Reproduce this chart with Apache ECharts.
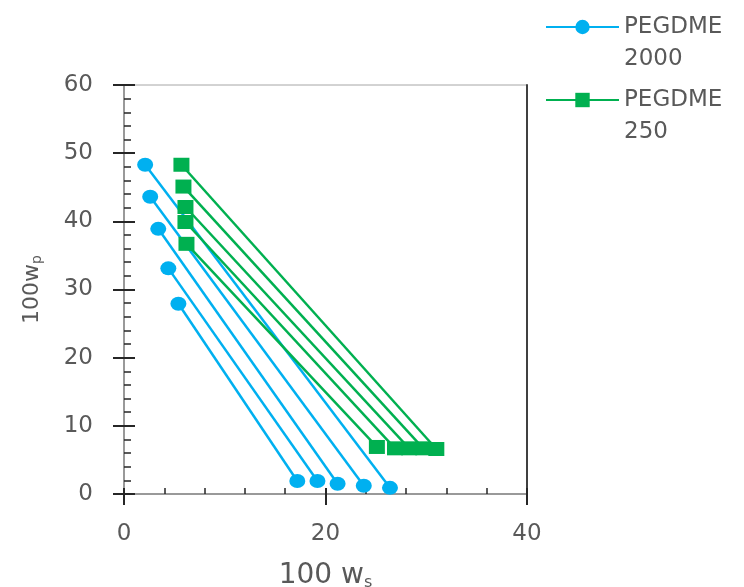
<!DOCTYPE html>
<html>
<head>
<meta charset="utf-8">
<script src="https://cdn.jsdelivr.net/npm/echarts@6/dist/echarts.min.js"></script>
<style>
  html, body { margin: 0; padding: 0; background: #fff; }
  #chart { width: 744px; height: 587px; }
</style>
</head>
<body>
<div id="chart"></div>
<script>
// tie lines: upper (polymer rich) and lower (salt rich) ends, 100w_s / 100w_p
var blueTop = [[2.1, 48.3], [2.6, 43.6], [3.4, 38.9], [4.4, 33.1], [5.4, 27.9]];
var blueBottom = [[26.4, 0.9], [23.8, 1.2], [21.2, 1.5], [19.2, 1.9], [17.2, 1.9]];
var greenTop = [[5.7, 48.3], [5.9, 45.1], [6.1, 42.1], [6.1, 39.9], [6.2, 36.7]];
var greenBottom = [[31.0, 6.6], [29.7, 6.7], [28.3, 6.7], [26.9, 6.7], [25.1, 6.9]];
var xTicks = [0, 20, 40];
var yTicks = [0, 10, 20, 30, 40, 50, 60];

var blue = '#00B0F0';
var green = '#00B050';
var txt = '#595959';
var font = 'DejaVu Sans';

var series = [];
blueTop.forEach(function (p, i) {
  series.push({
    name: 'PEGDME 2000', type: 'line', data: [p, blueBottom[i]],
    symbol: 'circle', symbolSize: [16, 14],
    itemStyle: { color: blue }, lineStyle: { color: blue, width: 2.5 }
  });
});
greenTop.forEach(function (p, i) {
  series.push({
    name: 'PEGDME 250', type: 'line', data: [p, greenBottom[i]],
    symbol: 'rect', symbolSize: [16, 14],
    itemStyle: { color: green }, lineStyle: { color: green, width: 2.5 }
  });
});

// empty first line so the icon sits level with the first text line
var legendBase = {
  orient: 'vertical', left: 545, padding: 0,
  itemWidth: 73, itemHeight: 18,
  formatter: function (n) { return ' \n' + n.replace(' ', '\n'); },
  textStyle: { fontFamily: font, fontSize: 23, color: txt, lineHeight: 32 }
};

var myChart = echarts.init(document.getElementById('chart'));
var option = {
  animation: false,
  backgroundColor: '#fff',
  grid: {
    left: 124, right: 217, top: 85, bottom: 93, outerBoundsMode: 'none',
    show: true, borderColor: '#a6a6a6', borderWidth: 1
  },
  legend: [
    Object.assign({}, legendBase, { top: -21, data: ['PEGDME 2000'] }),
    Object.assign({}, legendBase, { top: 52, data: ['PEGDME 250'] })
  ],
  xAxis: [{
    type: 'value', position: 'bottom', min: xTicks[0], max: xTicks[xTicks.length - 1], interval: 20,
    name: '100 w{s|s}', nameLocation: 'middle', nameGap: 67,
    nameTextStyle: {
      fontFamily: font, fontSize: 28, color: txt,
      rich: { s: { fontFamily: font, fontSize: 16, color: txt, padding: [14, 0, 0, 0] } }
    },
    axisLine: { show: true, lineStyle: { color: '#868686', width: 1.5 } },
    axisTick: { show: true, inside: false, length: 11, lineStyle: { color: '#262626', width: 2 } },
    axisLabel: { fontFamily: font, fontSize: 23, color: txt, margin: 29 },
    splitLine: { show: false }
  }, {
    type: 'value', position: 'bottom', min: xTicks[0], max: xTicks[xTicks.length - 1], interval: 20,
    axisLine: { show: false },
    axisTick: { show: true, inside: true, length: 6, lineStyle: { color: '#262626', width: 2 } },
    minorTick: { show: true, splitNumber: 5, length: 6, lineStyle: { color: '#262626', width: 1.5 } },
    axisLabel: { show: false },
    splitLine: { show: false }
  }],
  yAxis: [{
    type: 'value', position: 'left', min: yTicks[0], max: yTicks[yTicks.length - 1], interval: 10,
    name: '100w{p|p}', nameLocation: 'middle', nameGap: 80, nameRotate: 90,
    nameTextStyle: {
      fontFamily: font, fontSize: 22, color: txt,
      rich: { p: { fontFamily: font, fontSize: 14, color: txt, padding: [10, 0, 0, 0] } }
    },
    axisLine: { show: true, lineStyle: { color: '#868686', width: 1.5 } },
    axisTick: { show: true, inside: false, length: 11, lineStyle: { color: '#262626', width: 2 } },
    axisLabel: { fontFamily: font, fontSize: 23, color: txt, margin: 31 },
    splitLine: { show: false }
  }, {
    type: 'value', position: 'left', min: yTicks[0], max: yTicks[yTicks.length - 1], interval: 10,
    axisLine: { show: false },
    axisTick: { show: true, inside: true, length: 11, lineStyle: { color: '#262626', width: 2 } },
    minorTick: { show: true, splitNumber: 5, length: 7, lineStyle: { color: '#262626', width: 1.5 } },
    axisLabel: { show: false },
    splitLine: { show: false }
  }, {
    type: 'value', position: 'right', min: yTicks[0], max: yTicks[yTicks.length - 1], interval: 10,
    axisLine: { show: true, lineStyle: { color: '#404040', width: 2 } },
    axisTick: { show: false },
    axisLabel: { show: false },
    splitLine: { show: false }
  }],
  series: series
};
myChart.setOption(option);
</script>
</body>
</html>
